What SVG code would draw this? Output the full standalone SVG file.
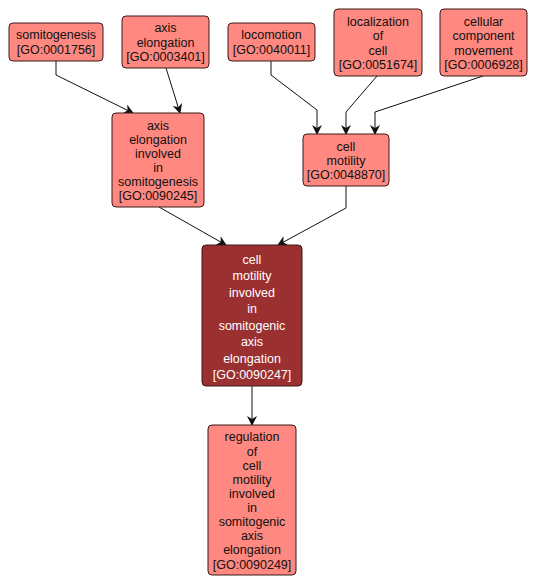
<svg xmlns="http://www.w3.org/2000/svg" width="538" height="588" viewBox="0 0 538 588">
<defs>
<style>
.n rect{fill:#ff8880;stroke:#3a1a1a;stroke-width:1}
.d rect{fill:#9b3030;stroke:#3a1a1a;stroke-width:1}
text{font-family:"Liberation Sans",Arial,sans-serif;font-size:12.5px;text-anchor:middle;fill:#111}
.d text{fill:#fff}
.e path{fill:none;stroke:#111;stroke-width:1;marker-end:url(#a)}
</style>
<marker id="a" viewBox="0 0 10 10" refX="9" refY="5" markerWidth="10" markerHeight="10" markerUnits="userSpaceOnUse" orient="auto">
<path d="M0,0 L10,5 L0,10 L3,5 z" fill="#111"/>
</marker>
</defs>
<rect width="538" height="588" fill="#fff"/>
<g class="e">
<path d="M56,61 V75 L133,113"/>
<path d="M166,68 L180,113"/>
<path d="M271,61 V75 L317,110 V134"/>
<path d="M377,76 L346,112 V134"/>
<path d="M483,76 L375,112 V134"/>
<path d="M159,207 L226,245"/>
<path d="M346,186 V208 L278,245"/>
<path d="M252,386 V425"/>
</g>
<g id="n1" class="n"><rect x="9" y="23" width="94" height="38" rx="4"/><text x="56" y="39">somitogenesis</text><text x="56" y="54">[GO:0001756]</text></g>
<g id="n2" class="n"><rect x="122" y="16" width="87" height="52" rx="4"/><text x="165.5" y="32">axis</text><text x="165.5" y="47">elongation</text><text x="165.5" y="61">[GO:0003401]</text></g>
<g id="n3" class="n"><rect x="228" y="23" width="87" height="38" rx="4"/><text x="271.5" y="39">locomotion</text><text x="271.5" y="54">[GO:0040011]</text></g>
<g id="n4" class="n"><rect x="334" y="9" width="88" height="67" rx="4"/><text x="378" y="26">localization</text><text x="378" y="40">of</text><text x="378" y="55">cell</text><text x="378" y="69">[GO:0051674]</text></g>
<g id="n5" class="n"><rect x="440" y="9" width="87" height="67" rx="4"/><text x="483.5" y="26">cellular</text><text x="483.5" y="40">component</text><text x="483.5" y="55">movement</text><text x="483.5" y="69">[GO:0006928]</text></g>
<g id="n6" class="n"><rect x="303" y="134" width="86" height="52" rx="4"/><text x="346" y="151">cell</text><text x="346" y="165">motility</text><text x="346" y="179">[GO:0048870]</text></g>
<g id="n7" class="n"><rect x="112" y="113" width="92" height="94" rx="4"/><text x="158" y="130">axis</text><text x="158" y="144">elongation</text><text x="158" y="158">involved</text><text x="158" y="172">in</text><text x="158" y="186">somitogenesis</text><text x="158" y="200">[GO:0090245]</text></g>
<g id="n8" class="d"><rect x="202" y="245" width="100" height="141" rx="4"/><text x="252" y="264">cell</text><text x="252" y="280">motility</text><text x="252" y="297">involved</text><text x="252" y="313">in</text><text x="252" y="330">somitogenic</text><text x="252" y="346">axis</text><text x="252" y="363">elongation</text><text x="252" y="379">[GO:0090247]</text></g>
<g id="n9" class="n"><rect x="208" y="425" width="88" height="150" rx="4"/><text x="252" y="441">regulation</text><text x="252" y="456">of</text><text x="252" y="470">cell</text><text x="252" y="484">motility</text><text x="252" y="498">involved</text><text x="252" y="512">in</text><text x="252" y="526">somitogenic</text><text x="252" y="540">axis</text><text x="252" y="554">elongation</text><text x="252" y="569">[GO:0090249]</text></g>
</svg>
